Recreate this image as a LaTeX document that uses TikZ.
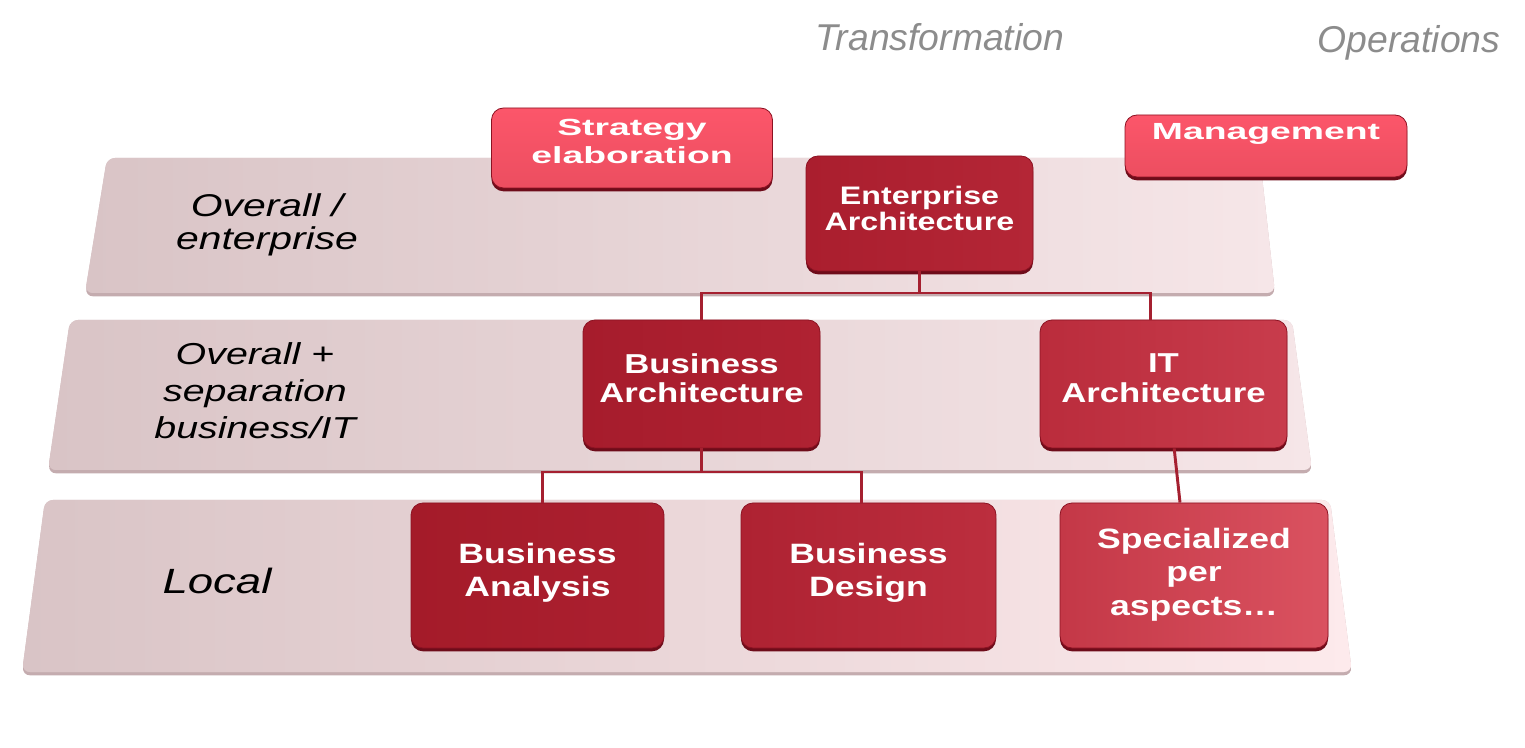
\documentclass[tikz,border=0pt]{standalone}
\usepackage{fontspec}
\usetikzlibrary{shadows}
\newfontfamily\boxfont[FakeStretch=1.27]{Liberation Sans}
\newfontfamily\topfont[FakeStretch=1.6]{Liberation Sans}
\newfontfamily\lblfont[FakeStretch=1.3]{Liberation Sans}
\newfontfamily\headfont{Liberation Sans}
\definecolor{bandleft}{RGB}{217,196,198}
\definecolor{bandright}{RGB}{246,230,232}
\definecolor{bandrightlow}{RGB}{253,234,236}
\definecolor{bandedge}{RGB}{196,172,175}
\definecolor{boxedge}{RGB}{140,18,34}
\definecolor{boxshade}{RGB}{110,12,26}
\definecolor{linkred}{RGB}{165,32,48}
\definecolor{headgray}{RGB}{140,140,140}
\tikzset{
  band/.style={fill=bandleft, left color=bandleft, rounded corners=6pt,
    drop shadow={shadow xshift=0pt, shadow yshift=-2.5pt, fill=bandedge, opacity=1}},
  archbox/.style={draw=boxedge, line width=0.6pt, rounded corners=9pt, inner sep=0pt, align=center,
    text=white, font=\boxfont\bfseries,
    drop shadow={shadow xshift=0pt, shadow yshift=-2.5pt, fill=boxshade, opacity=1}},
  topbox/.style={archbox, top color={rgb,255:red,252;green,86;blue,106}, bottom color={rgb,255:red,236;green,78;blue,96},
    font=\topfont\bfseries\fontsize{17.5}{21}\selectfont},
  levellabel/.style={inner sep=0pt, align=center, text=black, font=\lblfont\itshape},
  headlabel/.style={inner sep=0pt, text=headgray, font=\headfont\itshape\fontsize{28}{32}\selectfont},
  link/.style={draw=linkred, line width=2.2pt}
}
\begin{document}
\begin{tikzpicture}[x=0.75pt,y=0.75pt,yscale=-1,xscale=1]
        \useasboundingbox (0,0) rectangle (1525,748);
        \fill[band, right color=bandright] (107,158) -- (1260,158) -- (1275,293) -- (85,293) -- cycle;
        \fill[band, right color=bandright] (70,320) -- (1292,320) -- (1312,470) -- (48,470) -- cycle;
        \fill[band, right color=bandrightlow] (45,500) -- (1330,500) -- (1352,672) -- (22,672) -- cycle;
        \node[headlabel] (trans) at (940,37) {Transformation};
        \node[headlabel] (oper) at (1409,43) {Operations};
        \node[levellabel, font=\lblfont\itshape\fontsize{23.6}{24.75}\selectfont] (lvlent) at (267,225) {Overall /\\enterprise};
        \node[levellabel, font=\lblfont\itshape\fontsize{22.7}{27.75}\selectfont] (lvlsep) at (255,391) {Overall +\\separation\\business/IT};
        \node[levellabel, font=\lblfont\itshape\fontsize{26.3}{30}\selectfont] (lvlloc) at (217,581) {Local};
        \node[topbox, minimum width=210.75pt, minimum height=60pt, text depth=10.5pt] (strat) at (632,148) {Strategy\\elaboration};
        \node[topbox, minimum width=211.5pt, minimum height=46.5pt, text depth=22pt] (mgmt) at (1266,146) {Management};
        \node[archbox, left color={rgb,255:red,170;green,30;blue,46}, right color={rgb,255:red,180;green,38;blue,54},
          minimum width=170.25pt, minimum height=86.25pt, text depth=7.5pt, font=\boxfont\bfseries\fontsize{19}{19.5}\selectfont] (ea) at (919.5,213.5) {Enterprise\\Architecture};
        \node[archbox, left color={rgb,255:red,166;green,28;blue,44}, right color={rgb,255:red,176;green,34;blue,50},
          minimum width=177.75pt, minimum height=96pt, text depth=9pt, font=\boxfont\bfseries\fontsize{20.5}{22}\selectfont] (ba) at (701.5,384) {Business\\Architecture};
        \node[archbox, left color={rgb,255:red,186;green,44;blue,60}, right color={rgb,255:red,200;green,60;blue,76},
          minimum width=185.25pt, minimum height=96pt, text depth=9pt, font=\boxfont\bfseries\fontsize{20.5}{22}\selectfont] (it) at (1163.5,384) {IT\\Architecture};
        \node[archbox, left color={rgb,255:red,164;green,27;blue,41}, right color={rgb,255:red,172;green,32;blue,48},
          minimum width=189.75pt, minimum height=108.75pt, text depth=8.9pt, font=\boxfont\bfseries\fontsize{21}{24.75}\selectfont] (ban) at (537.5,575.5) {Business\\Analysis};
        \node[archbox, left color={rgb,255:red,174;green,34;blue,50}, right color={rgb,255:red,188;green,46;blue,62},
          minimum width=191.25pt, minimum height=108.75pt, text depth=8.9pt, font=\boxfont\bfseries\fontsize{21}{24.75}\selectfont] (bd) at (868.5,575.5) {Business\\Design};
        \node[archbox, left color={rgb,255:red,196;green,56;blue,71}, right color={rgb,255:red,218;green,82;blue,96},
          minimum width=201pt, minimum height=108.75pt, text depth=5.5pt, font=\boxfont\bfseries\fontsize{21}{25}\selectfont] (sp) at (1194,575.5) {Specialized\\per\\aspects\dots};
        \coordinate (topbus) at (0,293);
        \coordinate (midbus) at (0,472);
        \draw[link] (ea.south) -- (ea.south |- topbus) -| (ba.north);
        \draw[link] (ea.south |- topbus) -| ([xshift=-9.75pt]it.north);
        \draw[link] (ba.south) -- (ba.south |- midbus) -| ([xshift=4pt]ban.north);
        \draw[link] (ba.south |- midbus) -| ([xshift=-5.25pt]bd.north);
        \draw[link] ([xshift=8pt]it.south) -- ([xshift=-10.5pt]sp.north);
\end{tikzpicture}
\end{document}
